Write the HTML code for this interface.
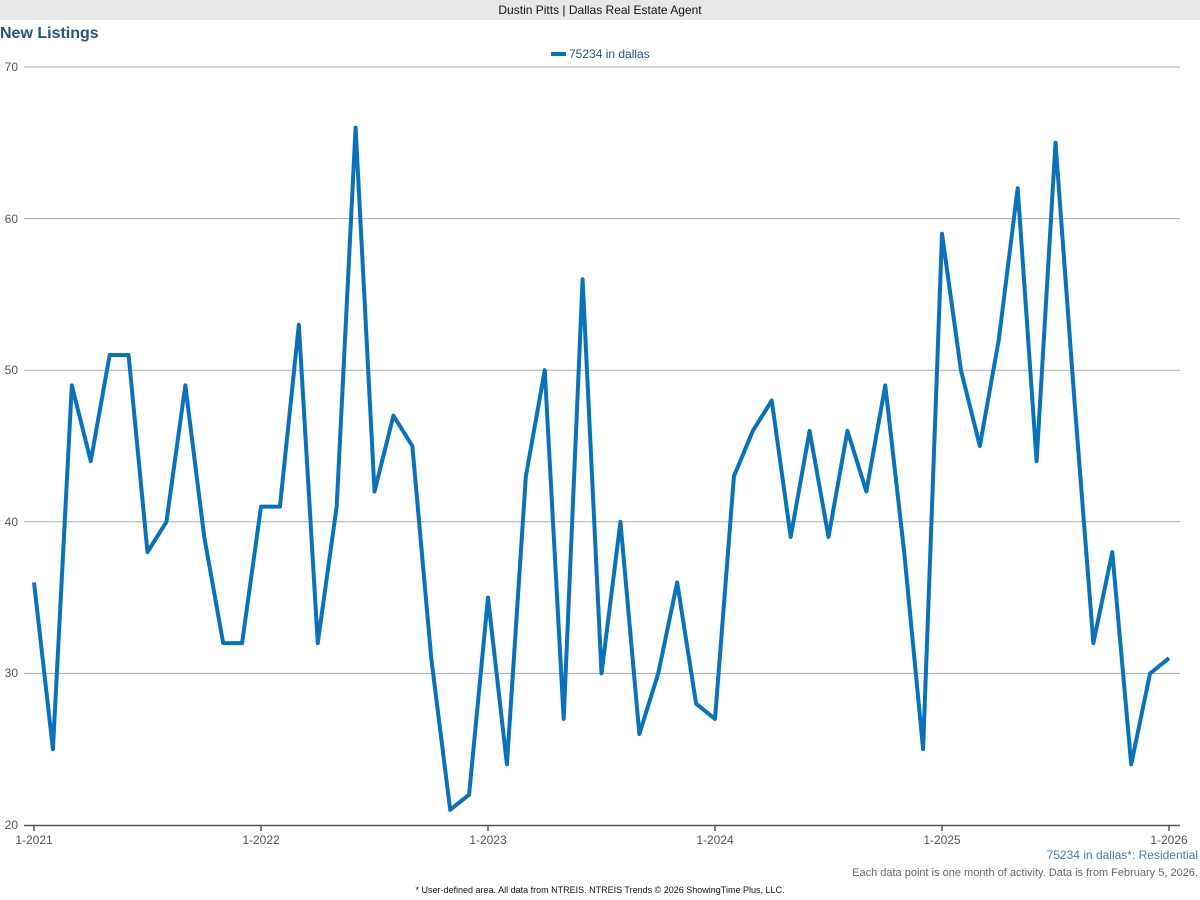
<!DOCTYPE html>
<html><head><meta charset="utf-8"><style>
body{margin:0;width:1200px;height:900px;background:#fff;font-family:"Liberation Sans",Arial,sans-serif;overflow:hidden;position:relative}
.hdr{position:absolute;left:0;top:0;width:1200px;height:20px;background:#e8e8e8;font-size:12px;line-height:20px;text-align:center;color:#111}
.t{position:absolute;left:0;top:25px;font-size:16px;font-weight:bold;color:#2a5180}
</style></head><body>
<div class="hdr">Dustin Pitts | Dallas Real Estate Agent</div>
<div class="t">New Listings</div>
<svg width="1200" height="900" style="position:absolute;left:0;top:0">
<g stroke="#aaa" stroke-width="1">
<line x1="24" x2="1180" y1="67" y2="67"/><line x1="24" x2="1180" y1="218.6" y2="218.6"/>
<line x1="24" x2="1180" y1="370.2" y2="370.2"/><line x1="24" x2="1180" y1="521.8" y2="521.8"/>
<line x1="24" x2="1180" y1="673.4" y2="673.4"/>
</g>
<line x1="24" x2="1180" y1="825.5" y2="825.5" stroke="#555" stroke-width="1.5"/>
<g stroke="#555" stroke-width="1.5"><line x1="34" x2="34" y1="825" y2="831"/><line x1="261" x2="261" y1="825" y2="831"/><line x1="488" x2="488" y1="825" y2="831"/><line x1="715" x2="715" y1="825" y2="831"/><line x1="942" x2="942" y1="825" y2="831"/><line x1="1169" x2="1169" y1="825" y2="831"/></g>
<g font-size="12" fill="#555" text-anchor="end">
<text x="18" y="71">70</text><text x="18" y="223">60</text><text x="18" y="374">50</text><text x="18" y="526">40</text><text x="18" y="677">30</text><text x="18" y="829">20</text>
</g>
<g font-size="12" fill="#555" text-anchor="middle">
<text x="34" y="844">1-2021</text><text x="261" y="844">1-2022</text><text x="488" y="844">1-2023</text><text x="715" y="844">1-2024</text><text x="942" y="844">1-2025</text><text x="1169" y="844">1-2026</text>
</g>
<line x1="551" x2="566" y1="54" y2="54" stroke="#0a72b8" stroke-width="4"/>
<text x="569" y="58" font-size="12" fill="#2a5180">75234 in dallas</text>
<polyline transform="matrix(18.917 0 0 -15.16 34 1128.2)" vector-effect="non-scaling-stroke" fill="none" stroke="#0a72b8" stroke-width="4" stroke-linejoin="round"
points="0,36 1,25 2,49 3,44 4,51 5,51 6,38 7,40 8,49 9,39 10,32 11,32 12,41 13,41 14,53 15,32 16,41 17,66 18,42 19,47 20,45 21,31 22,21 23,22 24,35 25,24 26,43 27,50 28,27 29,56 30,30 31,40 32,26 33,30 34,36 35,28 36,27 37,43 38,46 39,48 40,39 41,46 42,39 43,46 44,42 45,49 46,38 47,25 48,59 49,50 50,45 51,52 52,62 53,44 54,65 55,48 56,32 57,38 58,24 59,30 60,31"/>
<text x="1198" y="859" font-size="12" fill="#4a7bb0" text-anchor="end">75234 in dallas*: Residential</text>
<text x="1198" y="876" font-size="11" fill="#666" text-anchor="end">Each data point is one month of activity. Data is from February 5, 2026.</text>
<text x="600" y="893" font-size="9" fill="#111" text-anchor="middle">* User-defined area. All data from NTREIS. NTREIS Trends © 2026 ShowingTime Plus, LLC.</text>
</svg>
</body></html>
